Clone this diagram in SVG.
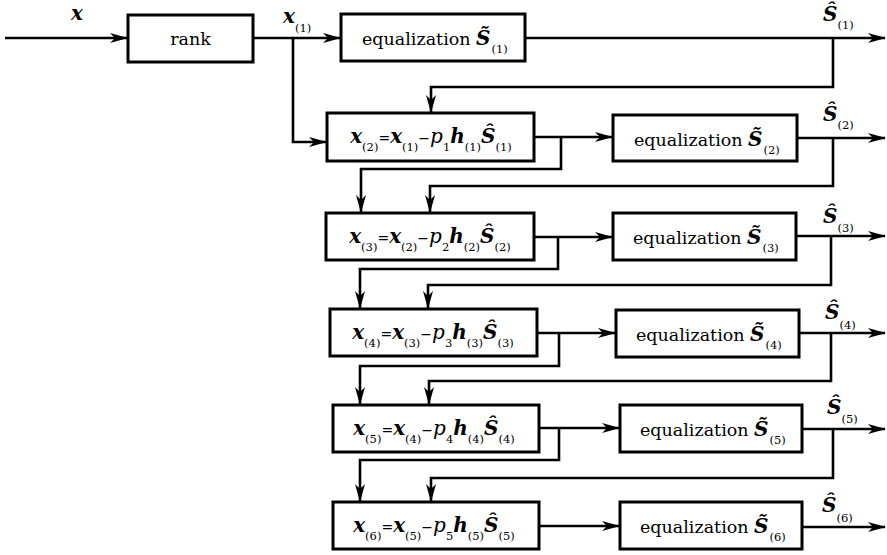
<svg xmlns="http://www.w3.org/2000/svg" width="887" height="555" viewBox="0 0 887 555">
<style>
.box{fill:#fff;stroke:#000;stroke-width:3}
.c{fill:none;stroke:#000;stroke-width:2.6;marker-end:url(#ah)}
text{font-family:"DejaVu Serif",serif;fill:#000}
.t{font-size:17.5px}
.f{font-size:20px}
.bi{font-weight:bold;font-style:italic}
.it{font-style:italic}
.sub{font-size:11.5px;font-weight:normal;font-style:normal}
.op{font-size:14px}
</style>
<defs>
<marker id="ah" markerWidth="18" markerHeight="10" refX="17" refY="5" orient="auto" markerUnits="userSpaceOnUse">
<path d="M0,0 L18,5 L0,10 L5,5 z" fill="#000"/>
</marker>
</defs>
<rect width="887" height="555" fill="#fff"/>
<g id="connectors">
<path class="c" d="M5,38 H127"/>
<path class="c" d="M253,38 H340"/>
<path class="c" d="M293,38 V142 H326"/>
<path class="c" d="M525,38 H885"/>
<path class="c" d="M833,38 V87 H431 V112"/>
<path class="c" d="M534,137 H612"/>
<path class="c" d="M561,137 V169 H361 V212"/>
<path class="c" d="M797,138 H885"/>
<path class="c" d="M833,138 V186 H430 V212"/>
<path class="c" d="M534,237 H612"/>
<path class="c" d="M558,237 V269 H360 V308"/>
<path class="c" d="M796,236 H885"/>
<path class="c" d="M831,236 V285 H428 V308"/>
<path class="c" d="M537,333 H615"/>
<path class="c" d="M559,333 V366 H360 V404"/>
<path class="c" d="M799,333 H885"/>
<path class="c" d="M831,333 V381 H429 V404"/>
<path class="c" d="M539,428 H619"/>
<path class="c" d="M559,428 V460 H360 V501"/>
<path class="c" d="M802,429 H885"/>
<path class="c" d="M833,429 V478 H431 V501"/>
<path class="c" d="M539,526 H619"/>
<path class="c" d="M802,527 H885"/>
</g>
<g id="labels">
<text class="f bi" x="71" y="20">x</text>
<text class="f" x="283" y="23"><tspan class="bi">x</tspan><tspan class="sub" dy="9">(1)</tspan></text>
<text class="f" x="823" y="21"><tspan class="bi">Ŝ</tspan><tspan class="sub" dy="8">(1)</tspan></text>
<text class="f" x="823" y="121"><tspan class="bi">Ŝ</tspan><tspan class="sub" dy="8">(2)</tspan></text>
<text class="f" x="823" y="223"><tspan class="bi">Ŝ</tspan><tspan class="sub" dy="9">(3)</tspan></text>
<text class="f" x="825" y="319"><tspan class="bi">Ŝ</tspan><tspan class="sub" dy="10">(4)</tspan></text>
<text class="f" x="827" y="414"><tspan class="bi">Ŝ</tspan><tspan class="sub" dy="9">(5)</tspan></text>
<text class="f" x="822" y="512"><tspan class="bi">Ŝ</tspan><tspan class="sub" dy="10">(6)</tspan></text>
</g>
<g id="rank">
<rect class="box" x="128" y="15" width="125" height="47"/>
<text class="t" x="190.5" y="45" text-anchor="middle">rank</text>
</g>
<g id="eq1" transform="translate(341,14)">
<rect class="box" width="184" height="47"/>
<text class="t" x="21" y="31">equalization <tspan class="bi" font-size="20">S̃</tspan><tspan class="sub" dx="1" dy="8">(1)</tspan></text>
</g>
<g id="eq2" transform="translate(613,115)">
<rect class="box" width="184" height="46"/>
<text class="t" x="21" y="31">equalization <tspan class="bi" font-size="20">S̃</tspan><tspan class="sub" dx="1" dy="8">(2)</tspan></text>
</g>
<g id="eq3" transform="translate(613,213)">
<rect class="box" width="183" height="47"/>
<text class="t" x="20" y="31">equalization <tspan class="bi" font-size="20">S̃</tspan><tspan class="sub" dx="1" dy="8">(3)</tspan></text>
</g>
<g id="eq4" transform="translate(616,310)">
<rect class="box" width="183" height="47"/>
<text class="t" x="20" y="31">equalization <tspan class="bi" font-size="20">S̃</tspan><tspan class="sub" dx="1" dy="8">(4)</tspan></text>
</g>
<g id="eq5" transform="translate(620,405)">
<rect class="box" width="182" height="47"/>
<text class="t" x="20" y="31">equalization <tspan class="bi" font-size="20">S̃</tspan><tspan class="sub" dx="1" dy="8">(5)</tspan></text>
</g>
<g id="eq6" transform="translate(620,502)">
<rect class="box" width="182" height="47"/>
<text class="t" x="20" y="31">equalization <tspan class="bi" font-size="20">S̃</tspan><tspan class="sub" dx="1" dy="8">(6)</tspan></text>
</g>
<g id="sub2" transform="translate(327,113)">
<rect class="box" width="207" height="48"/>
<text class="f" x="104" y="30" text-anchor="middle"><tspan class="bi">x</tspan><tspan class="sub" dy="8">(2)</tspan><tspan class="op" dy="-8">=</tspan><tspan class="bi">x</tspan><tspan class="sub" dy="8">(1)</tspan><tspan class="op" dy="-8">−</tspan><tspan class="it">p</tspan><tspan class="sub" dy="8">1</tspan><tspan class="bi" dy="-8">h</tspan><tspan class="sub" dy="8">(1)</tspan><tspan class="bi" dy="-8">Ŝ</tspan><tspan class="sub" dy="8">(1)</tspan></text>
</g>
<g id="sub3" transform="translate(326,213)">
<rect class="box" width="208" height="47"/>
<text class="f" x="104" y="30" text-anchor="middle"><tspan class="bi">x</tspan><tspan class="sub" dy="8">(3)</tspan><tspan class="op" dy="-8">=</tspan><tspan class="bi">x</tspan><tspan class="sub" dy="8">(2)</tspan><tspan class="op" dy="-8">−</tspan><tspan class="it">p</tspan><tspan class="sub" dy="8">2</tspan><tspan class="bi" dy="-8">h</tspan><tspan class="sub" dy="8">(2)</tspan><tspan class="bi" dy="-8">Ŝ</tspan><tspan class="sub" dy="8">(2)</tspan></text>
</g>
<g id="sub4" transform="translate(330,309)">
<rect class="box" width="207" height="47"/>
<text class="f" x="103" y="30" text-anchor="middle"><tspan class="bi">x</tspan><tspan class="sub" dy="8">(4)</tspan><tspan class="op" dy="-8">=</tspan><tspan class="bi">x</tspan><tspan class="sub" dy="8">(3)</tspan><tspan class="op" dy="-8">−</tspan><tspan class="it">p</tspan><tspan class="sub" dy="8">3</tspan><tspan class="bi" dy="-8">h</tspan><tspan class="sub" dy="8">(3)</tspan><tspan class="bi" dy="-8">Ŝ</tspan><tspan class="sub" dy="8">(3)</tspan></text>
</g>
<g id="sub5" transform="translate(333,405)">
<rect class="box" width="206" height="47"/>
<text class="f" x="101" y="30" text-anchor="middle"><tspan class="bi">x</tspan><tspan class="sub" dy="8">(5)</tspan><tspan class="op" dy="-8">=</tspan><tspan class="bi">x</tspan><tspan class="sub" dy="8">(4)</tspan><tspan class="op" dy="-8">−</tspan><tspan class="it">p</tspan><tspan class="sub" dy="8">4</tspan><tspan class="bi" dy="-8">h</tspan><tspan class="sub" dy="8">(4)</tspan><tspan class="bi" dy="-8">Ŝ</tspan><tspan class="sub" dy="8">(4)</tspan></text>
</g>
<g id="sub6" transform="translate(333,502)">
<rect class="box" width="206" height="47"/>
<text class="f" x="101" y="30" text-anchor="middle"><tspan class="bi">x</tspan><tspan class="sub" dy="8">(6)</tspan><tspan class="op" dy="-8">=</tspan><tspan class="bi">x</tspan><tspan class="sub" dy="8">(5)</tspan><tspan class="op" dy="-8">−</tspan><tspan class="it">p</tspan><tspan class="sub" dy="8">5</tspan><tspan class="bi" dy="-8">h</tspan><tspan class="sub" dy="8">(5)</tspan><tspan class="bi" dy="-8">Ŝ</tspan><tspan class="sub" dy="8">(5)</tspan></text>
</g>
</svg>
